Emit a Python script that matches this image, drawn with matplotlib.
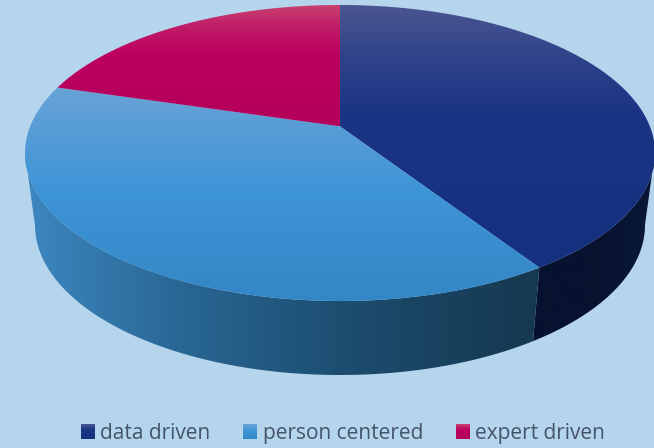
import numpy as np
import matplotlib
matplotlib.use("Agg")
import matplotlib.pyplot as plt
from matplotlib.colors import LinearSegmentedColormap
from matplotlib.patches import Patch, Polygon

labels = ["data driven", "person centered", "expert driven"]
values = [40.8, 38.8, 20.4]

bg = "#b5d5ed"
text_col = "#44546a"

# top face gradient, top to bottom
top_cols = [[(0, "#4a5590"), (.2, "#2f438a"), (.4, "#1b3483"), (1, "#14307f")],
            [(0, "#69a3d6"), (.25, "#529bd7"), (.5, "#3d94d6"), (1, "#3487c6")],
            [(0, "#c9426f"), (.2, "#bf1a66"), (.42, "#bc0060"), (1, "#b3005a")]]
# wall gradient, left to right
side_cols = [["#07122f", "#07122f", "#0a1738"],
             ["#3d87c0", "#276490", "#1b4a6b", "#16384f"]]

# ellipses in pixels
cx = 340
top_a, top_cy, top_b = 315, 153, 148
bot_a, bot_cy, bot_b = 305, 225, 150
k = 0.18  # perspective shift of the pie centre


def rim(t, a, cy, b):
    # t is clockwise angle from 12 o'clock
    x, y = np.sin(t), np.cos(t)
    d = 1 + k * y
    return cx + a * x * np.sqrt(1 - k ** 2) / d, cy - b * (y + k) / d


def gradient(ax, cols, box, clip, horizontal=False):
    cmap = LinearSegmentedColormap.from_list("g", cols)
    arr = np.linspace(0, 1, 256)
    arr = arr.reshape(1, -1) if horizontal else arr.reshape(-1, 1)
    x0, x1, y0, y1 = box
    im = ax.imshow(arr, cmap=cmap, extent=(x0, x1, y1, y0), aspect="auto", zorder=clip.get_zorder())
    im.set_clip_path(clip)


fig = plt.figure(figsize=(6.54, 4.48), dpi=100, facecolor=bg)
ax = fig.add_axes([0, 0, 1, 1])
ax.axis("off")

edges = np.cumsum([0] + values) / sum(values) * 2 * np.pi

# walls first, only the front of the pie shows one
# data driven runs from right extreme down, person centered from the cut to left extreme
t = np.linspace(edges[0], edges[1], 300)
xt, yt = rim(t, top_a, top_cy, top_b)
xb, yb = rim(t, bot_a, bot_cy, bot_b)
i_t, i_b = xt.argmax(), xb.argmax()
wall_data = np.column_stack([np.r_[xt[i_t:], xb[i_b:][::-1]], np.r_[yt[i_t:], yb[i_b:][::-1]]])

t = np.linspace(edges[1], edges[2], 300)
xt, yt = rim(t, top_a, top_cy, top_b)
xb, yb = rim(t, bot_a, bot_cy, bot_b)
i_t, i_b = xt.argmin(), xb.argmin()
wall_person = np.column_stack([np.r_[xt[:i_t + 1], xb[:i_b + 1][::-1]], np.r_[yt[:i_t + 1], yb[:i_b + 1][::-1]]])

for i, pts in enumerate([wall_data, wall_person]):
    poly = Polygon(pts, closed=True, fc="none", ec="none", zorder=i + 1)
    ax.add_patch(poly)
    gradient(ax, side_cols[i], (pts[:, 0].min(), pts[:, 0].max(), pts[:, 1].min(), pts[:, 1].max()), poly, horizontal=True)

for i in range(3):
    t = np.linspace(edges[i], edges[i + 1], 200)
    xt, yt = rim(t, top_a, top_cy, top_b)
    _, centre_y = rim(np.array([np.pi / 2]), top_a, top_cy, top_b)
    pts = np.column_stack([np.r_[xt, cx], np.r_[yt, centre_y]])
    poly = Polygon(pts, closed=True, fc="none", ec="none", zorder=5)
    ax.add_patch(poly)
    gradient(ax, top_cols[i], (pts[:, 0].min(), pts[:, 0].max(), pts[:, 1].min(), pts[:, 1].max()), poly)

ax.set_xlim(0, 654)
ax.set_ylim(448, 0)

handles = [Patch(fc=c[2][1], ec="none", label=l) for c, l in zip(top_cols, labels)]
leg = ax.legend(handles=handles, loc="center", bbox_to_anchor=(343 / 654, 1 - 433 / 448), ncol=3, frameon=False,
                prop={"family": "Open Sans", "size": 15}, labelcolor=text_col, handlelength=0.63, handleheight=0.72,
                handletextpad=0.29, columnspacing=1.6, borderpad=0)

# gradient on the legend swatches
fig.canvas.draw()
inv = ax.transData.inverted()
for p, c in zip(leg.get_patches(), top_cols):
    bb = p.get_window_extent()
    (x0, y0), (x1, y1) = inv.transform([(bb.x0, bb.y0), (bb.x1, bb.y1)])
    cmap = LinearSegmentedColormap.from_list("g", c)
    ax.imshow(np.linspace(0, 1, 32).reshape(-1, 1), cmap=cmap, extent=(x0, x1, y0, y1), aspect="auto", zorder=10)
ax.set_xlim(0, 654)
ax.set_ylim(448, 0)

fig.savefig("out.png", dpi=100, facecolor=bg)
